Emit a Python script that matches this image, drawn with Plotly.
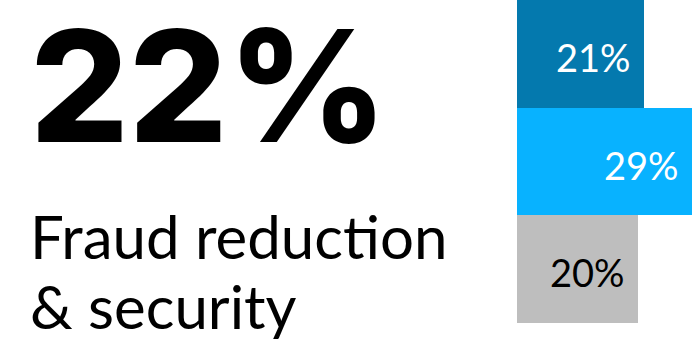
import plotly.graph_objects as go

# data
categories = ["a", "b", "c"]
values = [21, 29, 20]
labels = ["21%", "29%", "20%"]
bar_colors = ["#0479AE", "#08B2FF", "#BEBEBE"]
label_colors = ["white", "white", "black"]

headline = "22%"
caption_lines = ["Fraud reduction", "& security"]

W, H = 692, 347
L, T, B = 517, 0, 24
PW, PH = W - L, H - T - B


def px_x(x):
    return (x - L) / PW


def px_y(y):
    return (H - B - y) / PH


fig = go.Figure()
fig.add_trace(go.Bar(
    x=values, y=categories, orientation="h",
    marker=dict(color=bar_colors, line=dict(width=0)),
    hoverinfo="skip",
))

for cat, val, lab, col in zip(categories, values, labels, label_colors):
    fig.add_annotation(
        x=val, y=cat, text=lab, showarrow=False,
        xanchor="right", yanchor="middle", xshift=-11, yshift=-3,
        font=dict(family="Lato", size=38, color=col),
    )

# big number, box height trimmed so it stays inside the figure
fig.add_annotation(
    xref="paper", yref="paper", x=px_x(28), y=px_y(85),
    text=headline, showarrow=False, xanchor="left", yanchor="middle",
    height=150, valign="middle",
    font=dict(family="Inter", size=155, color="black", weight=800),
)
for i, line in enumerate(caption_lines):
    fig.add_annotation(
        xref="paper", yref="paper", x=px_x(28), y=px_y(236 + i * 70),
        text=line, showarrow=False, xanchor="left", yanchor="middle",
        font=dict(family="Lato", size=60, color="black"),
    )

fig.update_layout(
    width=W, height=H,
    margin=dict(l=L, r=0, t=T, b=B, pad=0),
    paper_bgcolor="white", plot_bgcolor="white",
    bargap=0, showlegend=False,
    xaxis=dict(range=[0, 29], visible=False, fixedrange=True),
    yaxis=dict(categoryorder="array", categoryarray=categories[::-1],
               visible=False, fixedrange=True),
)

fig.write_html("out.html", config={"displayModeBar": False},
               post_script="document.body.style.margin='0';")
